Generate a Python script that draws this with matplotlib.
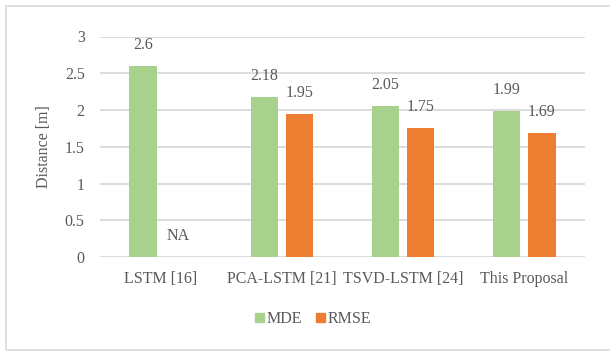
import matplotlib
matplotlib.use("Agg")
import matplotlib.pyplot as plt
from matplotlib.patches import Rectangle, Patch
import numpy as np

categories = ["LSTM [16]", "PCA-LSTM [21]", "TSVD-LSTM [24]", "This Proposal"]
mde = [2.6, 2.18, 2.05, 1.99]
rmse = [None, 1.95, 1.75, 1.69]
series_names = ["MDE", "RMSE"]
yticks = [0, 0.5, 1, 1.5, 2, 2.5, 3]

GREEN = "#A9D18E"
ORANGE = "#ED7D31"
TEXT = "#595959"
GRID = "#D9D9D9"

plt.rcParams["font.family"] = ["Liberation Serif", "DejaVu Serif"]
FS = 11.5

fig = plt.figure(figsize=(6.1, 3.51), dpi=100)
ax = fig.add_axes([100 / 610, 1 - 257 / 351, 485 / 610, (257 - 36.5) / 351])

# chart-area frame
fig.patches.append(Rectangle((5.5 / 610, 1 - 350 / 351), 610, (350 - 6) / 351,
                             transform=fig.transFigure, fill=False,
                             edgecolor=GRID, linewidth=1.2))

x = np.arange(len(categories))
w = 0.225
off = 0.145

def label(xpos, val, text):
    ax.annotate(text, (xpos, val), xytext=(0, 15.2), textcoords="offset points",
                ha="center", va="center", fontsize=FS, color=TEXT)

for i, v in enumerate(mde):
    ax.bar(x[i] - off, v, w, color=GREEN, zorder=3)
    label(x[i] - off, v, f"{v:g}")
for i, v in enumerate(rmse):
    if v is None:
        label(x[i] + off, 0, "NA")
    else:
        ax.bar(x[i] + off, v, w, color=ORANGE, zorder=3)
        label(x[i] + off, v, f"{v:g}")

ax.set_xlim(-0.5, len(categories) - 0.5)
ax.set_ylim(0, 3)
ax.set_yticks(yticks)
ax.set_yticklabels([f"{t:g}" for t in yticks])
ax.set_xticks(x)
ax.set_xticklabels(categories)
ax.tick_params(axis="both", length=0, labelsize=FS, colors=TEXT)
ax.tick_params(axis="y", pad=11)
ax.tick_params(axis="x", pad=10)
ax.grid(axis="y", color=GRID, linewidth=1.3, zorder=0)
for s in ax.spines.values():
    s.set_visible(False)
ax.set_axisbelow(True)
ax.set_ylabel("Distance [m]", fontsize=FS, color=TEXT, labelpad=9)

handles = [Patch(color=GREEN, label=series_names[0]),
           Patch(color=ORANGE, label=series_names[1])]
fig.legend(handles=handles, loc="center", bbox_to_anchor=(313 / 610, 1 - 319 / 351),
           ncol=2, frameon=False, fontsize=FS, labelcolor=TEXT,
           handlelength=0.55, handleheight=0.55, handletextpad=0.15, columnspacing=0.9)

fig.savefig("out.png", dpi=100, facecolor="white")
